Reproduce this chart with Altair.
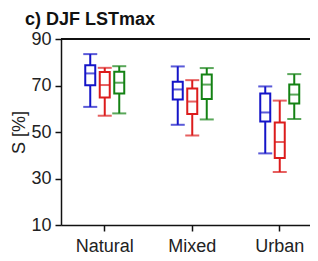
import altair as alt
import pandas as pd

categories = ["Natural", "Mixed", "Urban"]
series = ["S1", "S2", "S3"]
colors = ["#1414c8", "#dc1c1c", "#148214"]

# per series: values for Natural, Mixed, Urban
s1_low = [60.8, 53.1, 40.8]
s1_q1 = [70.1, 64.0, 54.5]
s1_med = [75.2, 68.3, 58.4]
s1_q3 = [78.7, 71.6, 66.6]
s1_high = [83.5, 78.2, 69.6]

s2_low = [57.0, 48.5, 32.8]
s2_q1 = [64.8, 57.7, 38.8]
s2_med = [70.2, 63.1, 45.7]
s2_q3 = [75.8, 68.7, 54.1]
s2_high = [77.6, 72.3, 63.5]

s3_low = [58.0, 55.4, 55.6]
s3_q1 = [66.6, 64.2, 62.3]
s3_med = [71.2, 70.4, 66.1]
s3_q3 = [75.9, 74.7, 70.4]
s3_high = [78.3, 77.5, 74.9]

stats = {
    "S1": (s1_low, s1_q1, s1_med, s1_q3, s1_high),
    "S2": (s2_low, s2_q1, s2_med, s2_q3, s2_high),
    "S3": (s3_low, s3_q1, s3_med, s3_q3, s3_high),
}
rows = []
for s in series:
    lo, q1, md, q3, hi = stats[s]
    for i, c in enumerate(categories):
        rows.append({"cat": c, "series": s, "low": lo[i], "q1": q1[i],
                     "median": md[i], "q3": q3[i], "high": hi[i]})
df = pd.DataFrame(rows)

FONT = "Liberation Sans"

yaxis = alt.Axis(values=list(range(10, 91, 10)),
                 labelExpr="datum.value % 20 == 10 ? datum.label : ''",
                 tickSize=6, tickWidth=1.5, tickColor="#111",
                 domainColor="#111", domainWidth=1.5,
                 labelFontSize=18, labelFont=FONT, labelColor="#222",
                 labelPadding=4, labelFlush=False,
                 title="S [%]", titleFont=FONT, titleFontSize=18,
                 titleFontWeight="normal", titleColor="#222",
                 titlePadding=2, grid=False)
yscale = alt.Scale(domain=[10, 90], nice=False, zero=False)

xaxis = alt.Axis(title=None, labelAngle=0, tickSize=6, tickWidth=1.5,
                 tickColor="#111", domainColor="#111", domainWidth=1.5,
                 labelFontSize=18, labelFont=FONT, labelColor="#222",
                 labelPadding=6, grid=False)

base = alt.Chart(df).encode(
    x=alt.X("cat:N", sort=categories, axis=xaxis,
            scale=alt.Scale(range=[0, 262.5], paddingInner=0, paddingOuter=0)),
    xOffset=alt.XOffset("series:N", sort=series,
                        scale=alt.Scale(range=[22, 65.5], paddingInner=0, paddingOuter=0)),
    color=alt.Color("series:N", scale=alt.Scale(domain=series, range=colors), legend=None),
)

whisk_lo = base.mark_rule(strokeWidth=2).encode(
    y=alt.Y("low:Q", scale=yscale, axis=yaxis), y2="q1:Q")
whisk_hi = base.mark_rule(strokeWidth=2).encode(
    y=alt.Y("q3:Q", scale=yscale, axis=yaxis), y2="high:Q")
box = base.mark_bar(filled=False, size=10, strokeWidth=2).encode(
    y=alt.Y("q1:Q", scale=yscale, axis=yaxis), y2="q3:Q")
med = base.mark_tick(thickness=2, size=10).encode(
    y=alt.Y("median:Q", scale=yscale, axis=yaxis))
cap_lo = base.mark_tick(thickness=2, size=14).encode(
    y=alt.Y("low:Q", scale=yscale, axis=yaxis))
cap_hi = base.mark_tick(thickness=2, size=14).encode(
    y=alt.Y("high:Q", scale=yscale, axis=yaxis))

frame = alt.Chart(df).mark_rule(color="#111", strokeWidth=1.5).encode(
    y=alt.datum(90), x=alt.value(0), x2=alt.value(262))

chart = alt.layer(frame, whisk_lo, whisk_hi, box, med, cap_lo, cap_hi).properties(
    width=249, height=186,
    padding={"left": 53, "top": 31, "right": 0, "bottom": 30},
    autosize=alt.AutoSizeParams(type="none"),
    title=alt.TitleParams("c) DJF LSTmax", anchor="start", frame="group",
                          fontSize=18, fontWeight="bold", font=FONT,
                          color="#111", dx=-36, offset=1),
).configure_view(stroke=None)

chart.save("out.html", embed_options={"renderer": "svg", "actions": False})
